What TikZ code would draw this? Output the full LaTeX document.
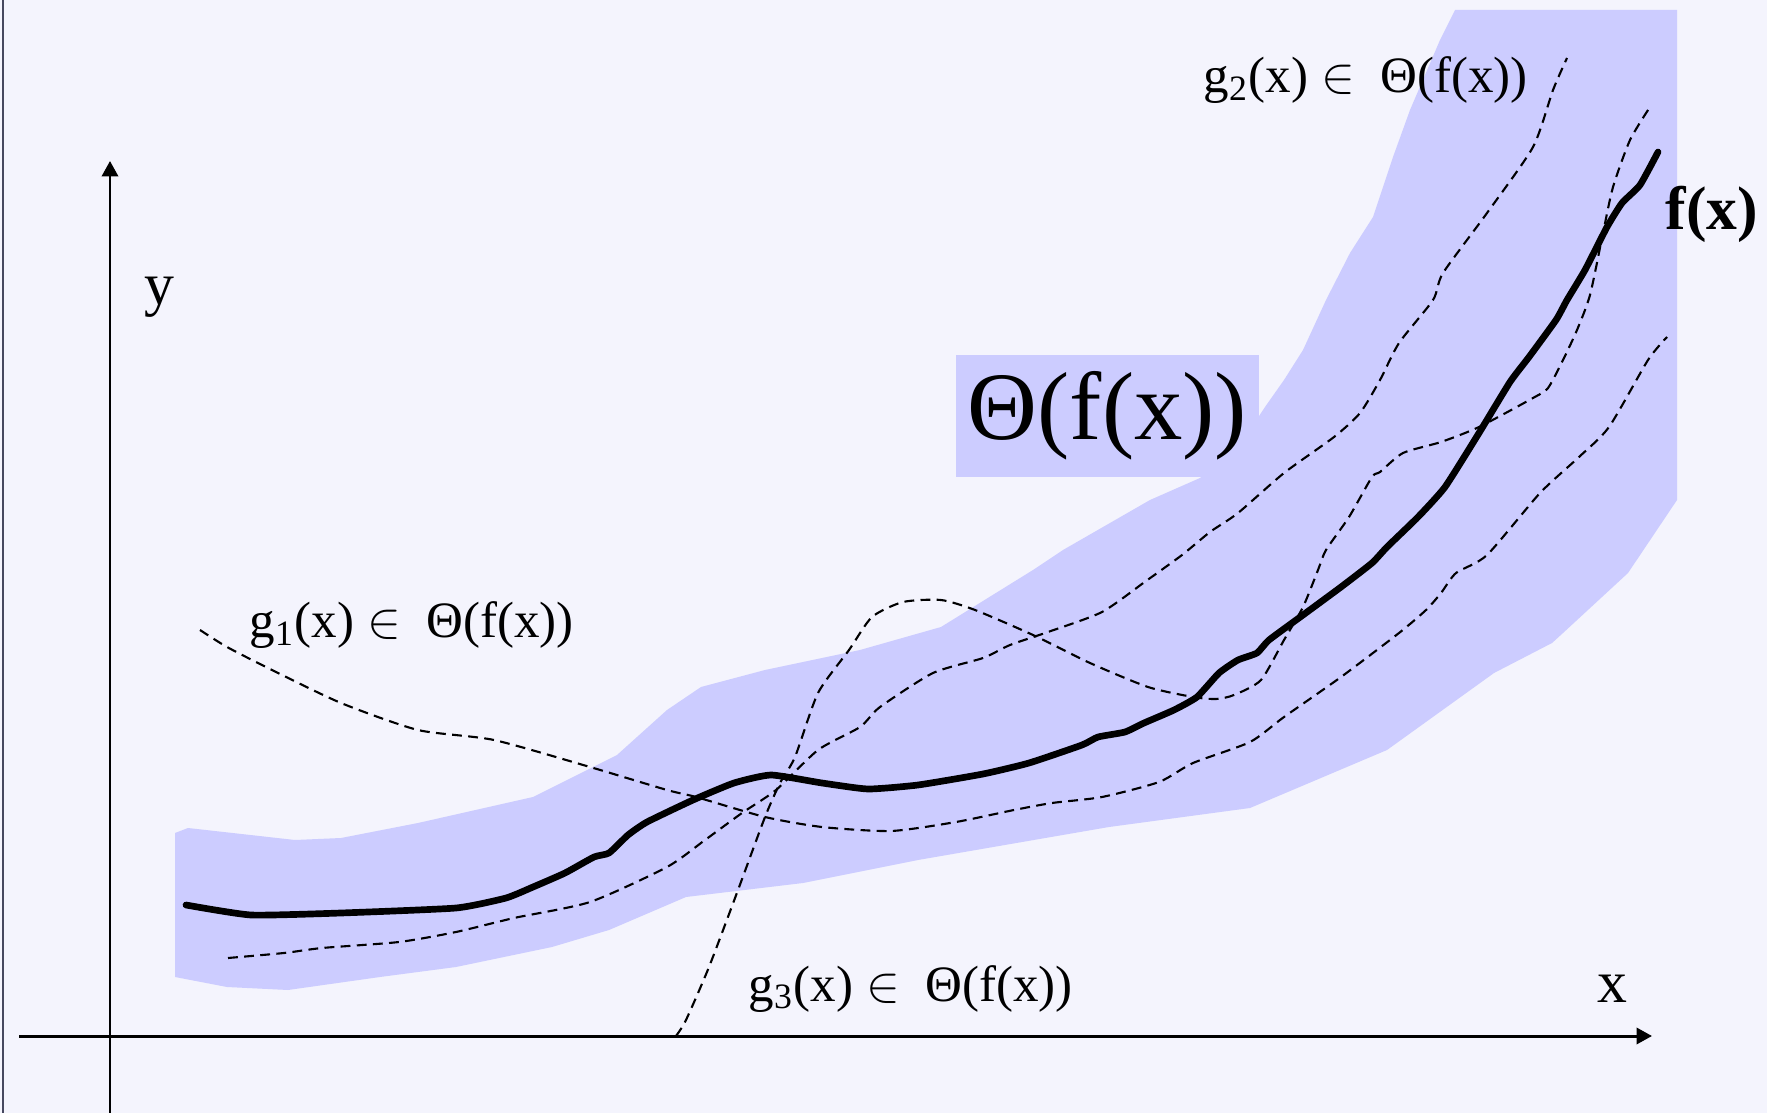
\documentclass[tikz,border=0pt]{standalone}
\usepackage{fontspec}
\setmainfont{Liberation Serif}
\usepackage{tikz}
\usetikzlibrary{arrows.meta}
\definecolor{bgtint}{RGB}{244,244,253}
\definecolor{bandblue}{RGB}{204,204,255}
\definecolor{framegray}{RGB}{70,72,95}
\tikzset{
    axisarrow/.style={
        line width=0.85pt,
        black,
        -{Triangle[length=4.4pt, width=4.6pt]}
    },
    % thick solid curve and the thin dashed ones
    fcurve/.style={
        line width=1.9pt,
        black,
        line join=round,
        line cap=round
    },
    gcurve/.style={
        line width=0.6pt,
        black,
        dash pattern=on 2.8pt off 1.8pt
    },
    glabel/.style={
        anchor=base west,
        inner sep=0pt,
        font=\fontsize{14.5pt}{16pt}\selectfont
    },
    axislabel/.style={
        anchor=base,
        inner sep=0pt,
        font=\fontsize{17pt}{19pt}\selectfont
    }
}

\begin{document}
\begin{tikzpicture}[x=0.01cm, y=-0.01cm]
	\useasboundingbox (0,0) rectangle (1767,1113);
	\fill[bgtint] (0,0) rectangle (1767,1113);
	\draw[framegray, line width=0.8pt] (3,0) -- (3,1113);

	% the band
	\fill[bandblue] (175,833) -- (188,828) -- (295,840) -- (341,838) -- (418,823) -- (533,797)
		-- (617,755) -- (667,710) -- (701,687) -- (765,670) -- (860,650) -- (941,627)
		-- (1033,570) -- (1063,550) -- (1150,500) -- (1200,478) -- (1240,445) -- (1265,407)
		-- (1284,380) -- (1303,350) -- (1326,300) -- (1350,253) -- (1373,217) -- (1393,157)
		-- (1410,110) -- (1440,40) -- (1455,10) -- (1677,10) -- (1677,500) -- (1628,573)
		-- (1563,633) -- (1552,643) -- (1494,673) -- (1387,750) -- (1250,808) -- (1109,827)
		-- (918,860) -- (803,883) -- (686,897) -- (609,930) -- (552,947) -- (456,967)
		-- (380,977) -- (288,990) -- (227,987) -- (175,977) -- cycle;

	\node[fill=bandblue, minimum width=3.03cm, minimum height=1.22cm, inner sep=0pt,
		font=\fontsize{27.5pt}{30pt}\selectfont] (theta) at (1107.5,416) {Θ(f(x))};

	% axes
	\coordinate (ybot) at (110,1113);
	\coordinate (ytop) at (110,161);
	\coordinate (xleft) at (19,1036);
	\coordinate (xright) at (1652,1036);
	\draw[axisarrow] (ybot) -- (ytop);
	\draw[axisarrow] (xleft) -- (xright);
	\node[axislabel] (ylabel) at (159,305) {y};
	\node[axislabel] (xlabel) at (1612,1002) {x};

	\draw[gcurve] plot[smooth, tension=0.4] coordinates {(200,630) (227,647) (272,670) (341,703)
		(418,730) (494,740) (590,767) (667,790) (696,797) (765,817) (822,827) (891,831)
		(956,822) (1014,810) (1052,803) (1102,797) (1159,782) (1193,763) (1250,742) (1284,717)
		(1341,677) (1399,633) (1426,610) (1441,593) (1456,573) (1487,555) (1540,493)
		(1579,457) (1609,427) (1648,360) (1667,337)};

	\draw[gcurve] plot[smooth, tension=0.4] coordinates {(228,958) (284,953) (322,948) (399,942)
		(456,932) (514,918) (590,902) (667,867) (705,840) (742,813) (776,790) (818,750)
		(860,727) (880,707) (933,673) (983,658) (1010,645) (1048,632) (1102,612) (1146,581)
		(1182,555) (1210,532) (1238,513) (1284,473) (1334,437) (1360,413) (1380,380)
		(1399,343) (1433,300) (1443,273) (1487,213) (1533,147) (1553,90) (1567,58)};

	\draw[gcurve] plot[smooth, tension=0.4] coordinates {(676,1036) (686,1020) (709,967)
		(738,890) (765,817) (780,783) (795,757) (818,693) (849,650) (872,617) (903,602)
		(941,600) (975,610) (1033,635) (1090,663) (1148,687) (1193,697) (1216,699)
		(1234,695) (1261,680) (1284,640) (1303,607) (1318,570) (1326,550) (1349,517)
		(1372,477) (1380,472) (1403,453) (1441,442) (1479,427) (1533,398) (1548,388)
		(1563,360) (1577,330) (1590,295) (1603,233) (1613,187) (1630,140) (1650,107)};

	\draw[fcurve] plot[smooth, tension=0.3] coordinates {(186,905) (251,915) (341,913)
		(456,908) (506,898) (533,887) (565,873) (594,857) (609,853) (628,835) (647,822)
		(693,800) (734,783) (771,775) (822,783) (868,789) (918,785) (983,774) (1029,763)
		(1082,745) (1098,737) (1125,732) (1144,723) (1174,710) (1197,697) (1219,673)
		(1238,660) (1257,653) (1269,640) (1303,615) (1341,587) (1372,563) (1387,547)
		(1418,517) (1445,487) (1479,433) (1510,382) (1529,357) (1556,320) (1567,300)
		(1585,270) (1607,227) (1622,203) (1640,185) (1658,152)};

	\node[glabel] (glabel1) at (249,638) {g\textsubscript{1}(x) $\in$\enspace Θ(f(x))};
	\node[glabel] (glabel2) at (1203,93) {g\textsubscript{2}(x) $\in$\enspace Θ(f(x))};
	\node[glabel] (glabel3) at (748,1001) {g\textsubscript{3}(x) $\in$\enspace Θ(f(x))};
	\node[anchor=base west, inner sep=0pt, font=\fontsize{17.5pt}{19pt}\selectfont\bfseries]
		(flabel) at (1665,230) {f(x)};
\end{tikzpicture}
\end{document}
